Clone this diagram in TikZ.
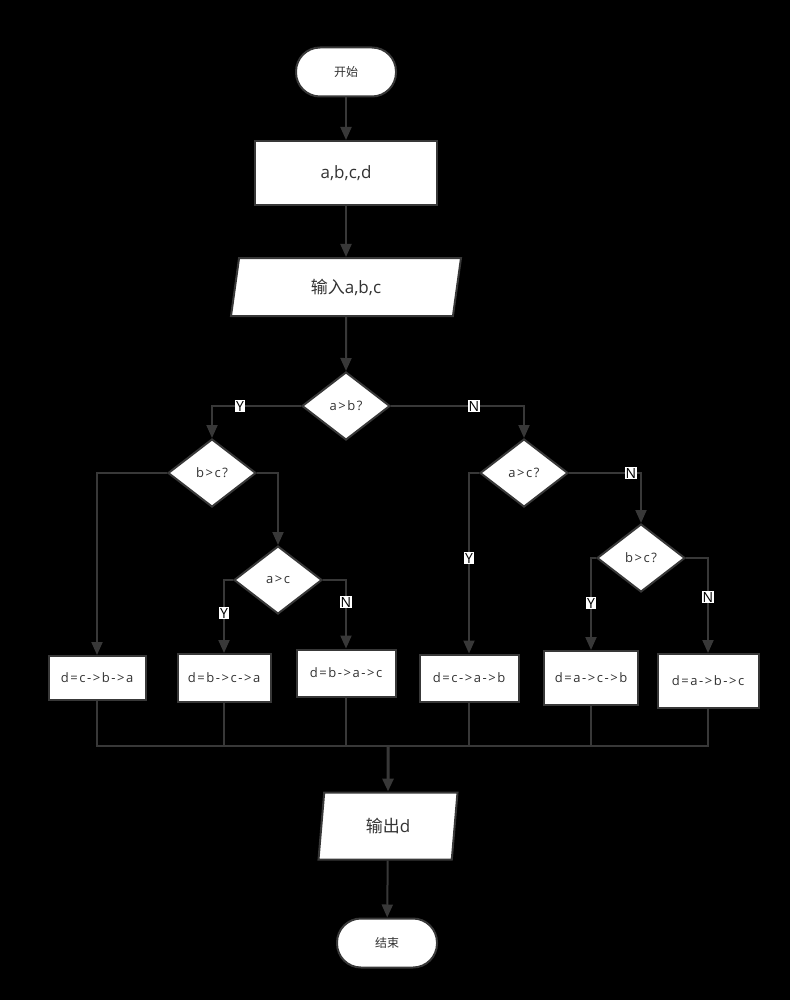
\documentclass[tikz,border=0pt]{standalone}
\usepackage{fontspec}
\setmainfont{Open Sans}
\newfontfamily\cjk{Noto Sans CJK SC}
\usetikzlibrary{shapes.geometric,arrows.meta}
\definecolor{lncol}{HTML}{383838}
\begin{document}
\begin{tikzpicture}[x=1pt,y=-1pt,
	box/.style={draw=lncol,line width=2pt,fill=white,inner sep=0pt,text=black!80},
	term/.style={box,rectangle,rounded corners=24pt,minimum width=100pt,minimum height=49pt,font=\cjk\fontsize{12}{14}\selectfont},
	proc/.style={box,rectangle,font=\fontsize{13}{15}\selectfont\addfontfeature{LetterSpace=12}},
	io/.style={box,trapezium,trapezium stretches body,font=\fontsize{17}{20}\selectfont},
	dec/.style={box,diamond,minimum width=88pt,minimum height=68pt,font=\fontsize{13}{15}\selectfont\addfontfeature{LetterSpace=12}},
	lbl/.style={fill=white,inner sep=1pt,font=\fontsize{14}{16}\selectfont,text=black},
	arr/.style={draw=lncol,line width=2pt,-{Triangle[length=13pt,width=11pt]}},
	ln/.style={draw=lncol,line width=2pt}]
\fill[black] (0,0) rectangle (790,1000);
% nodes
\node[term] (start) at (346,72) {开始};
\node[proc,minimum width=182pt,minimum height=64pt,font=\fontsize{17}{20}\selectfont] (init) at (346,173) {a,b,c,d};
\node[io,trapezium left angle=64,trapezium right angle=116,minimum width=230pt,minimum height=58pt] (inp) at (346,287) {{\cjk 输入}a,b,c};
\node[dec] (ab) at (346,406) {a>b?};
\node[dec] (bc1) at (212,473) {b>c?};
\node[dec] (ac1) at (278,580) {a>c};
\node[dec] (ac2) at (524,473) {a>c?};
\node[dec] (bc2) at (641,558) {b>c?};
\node[proc,minimum width=97pt,minimum height=44pt] (cba) at (97,678) {d=c->b->a};
\node[proc,minimum width=93pt,minimum height=48pt] (bca) at (224,678) {d=b->c->a};
\node[proc,minimum width=99pt,minimum height=47pt] (bac) at (346,673) {d=b->a->c};
\node[proc,minimum width=99pt,minimum height=47pt] (cab) at (469,678) {d=c->a->b};
\node[proc,minimum width=94pt,minimum height=54pt] (acb) at (591,678) {d=a->c->b};
\node[proc,minimum width=101pt,minimum height=54pt] (abc) at (708,681) {d=a->b->c};
\node[io,trapezium left angle=70,trapezium right angle=110,minimum width=139pt,minimum height=67pt] (out) at (388,826) {{\cjk 输出}d};
\node[term] (stop) at (387,943) {结束};
\coordinate (merge) at (388,746);
% connectors
\draw[arr] (start) -- (init);
\draw[arr] (init) -- (inp);
\draw[arr] (inp) -- (ab);
\draw[arr] (ab.west) -| (bc1.north);
\draw[arr] (ab.east) -| (ac2.north);
\draw[arr] (bc1.west) -| (cba.north);
\draw[arr] (bc1.east) -| (ac1.north);
\draw[arr] (ac1.west) -| (bca.north);
\draw[arr] (ac1.east) -| (bac.north);
\draw[arr] (ac2.west) -| (cab.north);
\draw[arr] (ac2.east) -| (bc2.north);
\draw[arr] (bc2.west) -| (acb.north);
\draw[arr] (bc2.east) -| (abc.north);
\foreach \n in {cba,bca,bac,cab,acb,abc}
	\draw[ln] (\n.south) |- (merge);
\draw[arr,line width=3pt] (merge) -- (out.north);
\draw[arr] (out) -- (stop);
% labels
\node[lbl] (y1) at (240,406) {Y};
\node[lbl] (n1) at (474,406) {N};
\node[lbl] (y2) at (224,613) {Y};
\node[lbl] (n2) at (346,602) {N};
\node[lbl] (y3) at (469,558) {Y};
\node[lbl] (n3) at (631,473) {N};
\node[lbl] (y4) at (591,603) {Y};
\node[lbl] (n4) at (708,597) {N};
\end{tikzpicture}
\end{document}
